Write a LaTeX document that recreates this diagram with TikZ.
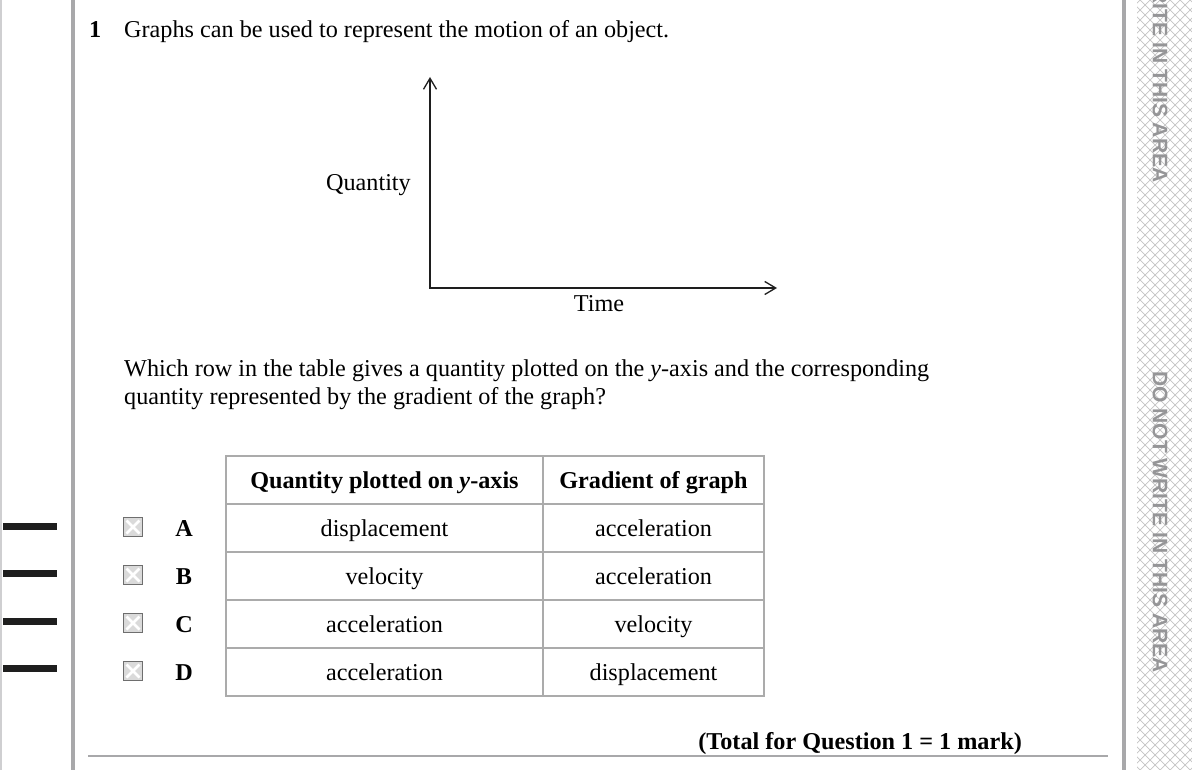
\documentclass[tikz,border=0pt]{standalone}
\usepackage{fontspec}
\setmainfont{Liberation Serif}
\newfontfamily\warnfont{Liberation Sans}
\usetikzlibrary{arrows.meta}
\definecolor{rulegray}{HTML}{A8A8AA}
\definecolor{lightrule}{HTML}{CFCFD1}
\definecolor{tabgray}{HTML}{ABABAB}
\definecolor{hatchgray}{HTML}{C4C4C4}
\definecolor{warngray}{HTML}{959597}
\definecolor{boxborder}{HTML}{6E6E6E}
\definecolor{boxfill}{HTML}{DADADA}
\definecolor{ink}{HTML}{1E1E1E}
\begin{document}
\begin{tikzpicture}[x=1pt,y=-1pt,
  body/.style={font=\fontsize{24.2}{28}\selectfont, inner sep=0pt, text=black},
  bodyb/.style={font=\fontsize{24.2}{28}\selectfont\bfseries, inner sep=0pt, text=black},
  warn/.style={font=\warnfont\fontsize{21}{24}\selectfont\bfseries, text=warngray, inner sep=0pt, rotate=-90},
  hatch/.style={draw=hatchgray, line width=0.7pt},
  axis/.style={draw=ink, line width=1.5pt},
  tab/.style={draw=tabgray, line width=1.8pt},
  marginmark/.style={fill=ink},
  chk/.style={draw=boxborder, fill=boxfill, line width=1.5pt, minimum size=19pt, inner sep=0pt,
    path picture={\draw[white,line width=2.6pt]
      ([shift={(3pt,3pt)}]path picture bounding box.south west) -- ([shift={(-3pt,-3pt)}]path picture bounding box.north east)
      ([shift={(-3pt,3pt)}]path picture bounding box.south east) -- ([shift={(3pt,-3pt)}]path picture bounding box.north west);}},
  barb/.tip={Straight Barb[length=11pt,width=13pt,line width=1.3pt]}]
\useasboundingbox (0,0) rectangle (1192,770);
\fill[white] (0,0) rectangle (1192,770);

% page rules
\draw[lightrule, line width=2pt] (1,0) -- (1,770);
\draw[rulegray, line width=3.2pt] (73,0) -- (73,770);
\draw[rulegray, line width=3.2pt] (1124,0) -- (1124,770);
\draw[rulegray, line width=2pt] (88,756) -- (1108,756);

% hatched strip
\begin{scope}
  \clip (1137,0) rectangle (1192,770);
  \foreach \k in {-80,-70,...,860} {
    \draw[hatch] (1130,\k) -- (1200,\k+70);
    \draw[hatch] (1130,\k) -- (1200,\k-70);
  }
  \node[warn] (warn1) at (1160,32) {DO NOT WRITE IN THIS AREA};
  \node[warn] (warn2) at (1160,522) {DO NOT WRITE IN THIS AREA};
\end{scope}

% left margin marks
\fill[marginmark] (3,523) rectangle (57,530);
\fill[marginmark] (3,570) rectangle (57,577);
\fill[marginmark] (3,618) rectangle (57,625);
\fill[marginmark] (3,665) rectangle (57,672);

% question
\node[bodyb, anchor=base west] (qnum) at (89,38) {1};
\node[body, anchor=base west] (qtext) at (124,38) {Graphs can be used to represent the motion of an object.};

% graph
\coordinate (O) at (430,288);
\coordinate (ytop) at (430,77);
\coordinate (xend) at (777,288);
\draw[axis, barb-barb] (ytop) -- (O) -- (xend);
\node[body, anchor=base east] (ylab) at (411,191) {Quantity};
\node[body, anchor=base] (xlab) at (599,312) {Time};

% question text
\node[body, anchor=base west] (q1) at (124,376) {Which row in the table gives a quantity plotted on the \textit{y}-axis and the corresponding};
\node[body, anchor=base west] (q2) at (124,404) {quantity represented by the gradient of the graph?};

% table
\draw[tab] (226,456) rectangle (764,696);
\foreach \yy in {504,552,600,648} \draw[tab] (226,\yy) -- (764,\yy);
\draw[tab] (543,456) -- (543,696);
\node[bodyb, anchor=base] (h1) at (384.5,488) {Quantity plotted on \textit{y}-axis};
\node[bodyb, anchor=base] (h2) at (653.5,488) {Gradient of graph};

\node[body, anchor=base] (a1) at (384.5,536) {displacement};
\node[body, anchor=base] (a2) at (653.5,536) {acceleration};
\node[body, anchor=base] (b1) at (384.5,584) {velocity};
\node[body, anchor=base] (b2) at (653.5,584) {acceleration};
\node[body, anchor=base] (c1) at (384.5,632) {acceleration};
\node[body, anchor=base] (c2) at (653.5,632) {velocity};
\node[body, anchor=base] (d1) at (384.5,680) {acceleration};
\node[body, anchor=base] (d2) at (653.5,680) {displacement};

% options
\node[chk] (cbA) at (133,527) {};
\node[chk] (cbB) at (133,575) {};
\node[chk] (cbC) at (133,623) {};
\node[chk] (cbD) at (133,671) {};
\node[bodyb, anchor=base] (lA) at (184,536) {A};
\node[bodyb, anchor=base] (lB) at (184,584) {B};
\node[bodyb, anchor=base] (lC) at (184,632) {C};
\node[bodyb, anchor=base] (lD) at (184,680) {D};

% total
\node[bodyb, anchor=base east] (total) at (1022,749) {(Total for Question 1 = 1 mark)};
\end{tikzpicture}
\end{document}
